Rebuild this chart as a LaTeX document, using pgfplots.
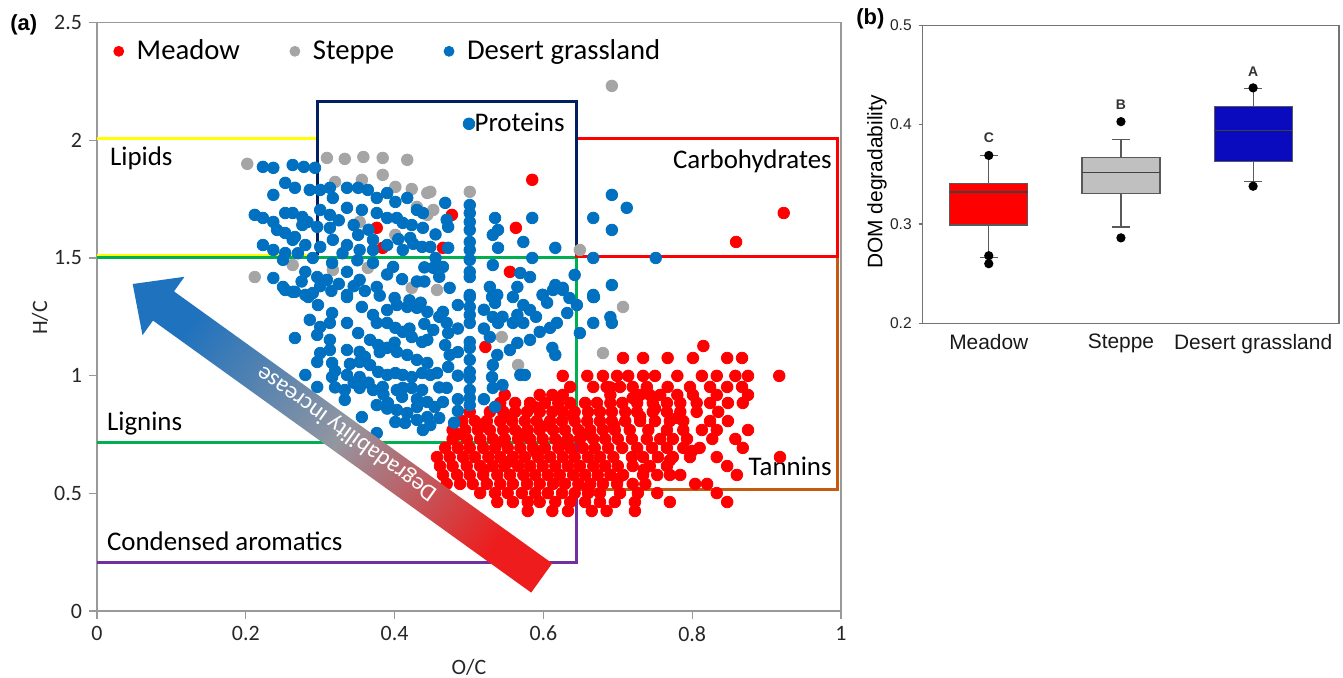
\documentclass[border=0pt]{standalone}
\usepackage{pgfplots}
\pgfplotsset{compat=1.18}
\usepgfplotslibrary{statistics}
\usepackage{fontspec}
\setmainfont{Carlito}
\newfontfamily\arialf{Liberation Sans}
\definecolor{mred}{HTML}{FF0000}
\definecolor{sgray}{HTML}{A5A5A5}
\definecolor{dblue}{HTML}{0070C0}
\definecolor{lyellow}{HTML}{FFFF00}
\definecolor{lgreen}{HTML}{00B050}
\definecolor{pnavy}{HTML}{002060}
\definecolor{torange}{HTML}{C55A11}
\definecolor{cpurple}{HTML}{7030A0}
\definecolor{arrblue}{HTML}{1F72BE}
\definecolor{arrred}{HTML}{EE1C1C}
\definecolor{arrmid}{HTML}{9496A0}
\definecolor{bred}{HTML}{FF0000}
\definecolor{bgray}{HTML}{C0C0C0}
\definecolor{bblue}{HTML}{0A0ABE}
\begin{document}
\begin{tikzpicture}
\path[use as bounding box] (0,0) rectangle (671.5bp,339bp);
% ---------------- panel (a) ----------------
\begin{axis}[
  at={(48.5bp,33.5bp)}, anchor=south west, scale only axis,
  width=372bp, height=294.2bp,
  xmin=0, xmax=1, ymin=0, ymax=2.5,
  xtick={0,0.2,0.4,0.6,0.8,1}, xticklabels={0,0.2,0.4,0.6,0.8,1},
  ytick={0,0.5,1,1.5,2,2.5}, yticklabels={0,0.5,1,1.5,2,2.5},
  tick pos=left,
  tick align=outside, major tick length=4bp,
  axis line style={black!40, line width=0.6pt},
  tick style={black!40, line width=0.6pt},
  ticklabel style={font=\fontsize{11}{13}\selectfont, text=black!85},
  clip=false,
  legend style={at={(axis cs:0.022,2.378)}, anchor=west, draw=none, fill=none,
    legend columns=3, font=\fontsize{14.4}{17}\selectfont, inner sep=0pt,
    /tikz/every odd column/.append style={column sep=4.5bp},
    /tikz/every even column/.append style={column sep=23bp}},
  legend image code/.code={\draw[#1, mark size=2.5bp] plot coordinates {(0bp,0bp)};},
  every axis plot/.append style={only marks, mark=*, mark size=2.9bp},
]
% Meadow
\addplot[mred, mark options={draw=mred, fill=mred}] coordinates {
(0.376,1.628) (0.384,1.543) (0.585,1.832) (0.563,1.628) (0.477,1.683) (0.465,1.543)
(0.555,1.441) (0.923,1.691) (0.859,1.568) (0.522,1.122)
(0.815,1.126)
(0.707,1.075) (0.734,1.075) (0.767,1.075) (0.801,1.075) (0.847,1.075) (0.867,1.075)
(0.626,0.999) (0.659,0.999) (0.680,0.999) (0.699,0.999) (0.714,0.999) (0.734,0.999) (0.750,0.999) (0.780,0.999) (0.813,0.999) (0.833,0.999) (0.858,0.999) (0.875,0.999) (0.917,0.999)
(0.636,0.952) (0.667,0.952) (0.685,0.952) (0.703,0.952) (0.720,0.952) (0.739,0.952) (0.767,0.952) (0.797,0.952) (0.824,0.952) (0.847,0.952) (0.867,0.952)
(0.548,0.918) (0.595,0.918) (0.612,0.918) (0.626,0.918) (0.690,0.918) (0.730,0.918) (0.743,0.918) (0.757,0.918) (0.780,0.918) (0.801,0.918) (0.833,0.918) (0.875,0.918)
(0.542,0.884) (0.562,0.884) (0.582,0.884) (0.602,0.884) (0.620,0.884) (0.636,0.884) (0.656,0.884) (0.672,0.884) (0.690,0.884) (0.706,0.884) (0.726,0.884) (0.747,0.884) (0.766,0.884) (0.784,0.884) (0.806,0.884) (0.824,0.884) (0.848,0.884) (0.868,0.884)
(0.501,0.846) (0.528,0.846) (0.546,0.846) (0.562,0.846) (0.578,0.846) (0.595,0.846) (0.612,0.846) (0.626,0.846) (0.642,0.846) (0.660,0.846) (0.676,0.846) (0.692,0.846) (0.710,0.846) (0.726,0.846) (0.747,0.846) (0.766,0.846) (0.784,0.846) (0.806,0.846) (0.835,0.846)
(0.491,0.807) (0.508,0.807) (0.524,0.807) (0.542,0.807) (0.558,0.807) (0.575,0.807) (0.591,0.807) (0.609,0.807) (0.625,0.807) (0.642,0.807) (0.659,0.807) (0.676,0.807) (0.692,0.807) (0.710,0.807) (0.730,0.807) (0.750,0.807) (0.770,0.807) (0.788,0.807) (0.824,0.807) (0.848,0.807)
(0.478,0.769) (0.495,0.769) (0.512,0.769) (0.528,0.769) (0.546,0.769) (0.562,0.769) (0.579,0.769) (0.595,0.769) (0.613,0.769) (0.629,0.769) (0.647,0.769) (0.663,0.769) (0.680,0.769) (0.696,0.769) (0.716,0.769) (0.741,0.769) (0.766,0.769) (0.788,0.769) (0.813,0.769) (0.833,0.769) (0.875,0.769)
(0.478,0.731) (0.497,0.731) (0.515,0.731) (0.532,0.731) (0.548,0.731) (0.566,0.731) (0.582,0.731) (0.599,0.731) (0.616,0.731) (0.633,0.731) (0.649,0.731) (0.667,0.731) (0.683,0.731) (0.700,0.731) (0.719,0.731) (0.739,0.731) (0.757,0.731) (0.774,0.731) (0.793,0.731) (0.827,0.731) (0.858,0.731)
(0.468,0.693) (0.485,0.693) (0.501,0.693) (0.519,0.693) (0.535,0.693) (0.552,0.693) (0.569,0.693) (0.586,0.693) (0.602,0.693) (0.620,0.693) (0.636,0.693) (0.653,0.693) (0.669,0.693) (0.687,0.693) (0.706,0.693) (0.726,0.693) (0.746,0.693) (0.766,0.693) (0.788,0.693) (0.810,0.693) (0.868,0.693)
(0.457,0.654) (0.474,0.654) (0.492,0.654) (0.508,0.654) (0.526,0.654) (0.542,0.654) (0.559,0.654) (0.575,0.654) (0.593,0.654) (0.609,0.654) (0.626,0.654) (0.642,0.654) (0.660,0.654) (0.676,0.654) (0.694,0.654) (0.719,0.654) (0.734,0.654) (0.754,0.654) (0.774,0.654) (0.797,0.654) (0.833,0.654) (0.918,0.654)
(0.461,0.616) (0.478,0.616) (0.497,0.616) (0.515,0.616) (0.532,0.616) (0.548,0.616) (0.566,0.616) (0.582,0.616) (0.599,0.616) (0.616,0.616) (0.633,0.616) (0.649,0.616) (0.667,0.616) (0.683,0.616) (0.700,0.616) (0.720,0.616) (0.743,0.616) (0.766,0.616) (0.847,0.616)
(0.465,0.578) (0.484,0.578) (0.501,0.578) (0.519,0.578) (0.538,0.578) (0.555,0.578) (0.573,0.578) (0.589,0.578) (0.606,0.578) (0.622,0.578) (0.640,0.578) (0.656,0.578) (0.673,0.578) (0.690,0.578) (0.707,0.578) (0.734,0.578) (0.753,0.578) (0.770,0.578) (0.784,0.578) (0.860,0.578)
(0.470,0.540) (0.488,0.540) (0.505,0.540) (0.524,0.540) (0.542,0.540) (0.559,0.540) (0.578,0.540) (0.595,0.540) (0.613,0.540) (0.629,0.540) (0.647,0.540) (0.663,0.540) (0.680,0.540) (0.699,0.540) (0.720,0.540) (0.737,0.540) (0.804,0.540) (0.820,0.540)
(0.515,0.501) (0.535,0.501) (0.552,0.501) (0.571,0.501) (0.589,0.501) (0.606,0.501) (0.625,0.501) (0.642,0.501) (0.660,0.501) (0.676,0.501) (0.703,0.501) (0.727,0.501) (0.753,0.501) (0.833,0.501)
(0.538,0.463) (0.559,0.463) (0.579,0.463) (0.595,0.463) (0.616,0.463) (0.636,0.463) (0.656,0.463) (0.676,0.463) (0.696,0.463) (0.723,0.463) (0.770,0.463) (0.847,0.463)
(0.579,0.425) (0.612,0.425) (0.633,0.425) (0.665,0.425) (0.685,0.425) (0.723,0.425)
(0.486,0.750) (0.520,0.790) (0.555,0.825) (0.590,0.865) (0.537,0.712) (0.571,0.750) (0.605,0.788) (0.640,0.826) (0.520,0.600) (0.555,0.636) (0.590,0.674) (0.625,0.712) (0.660,0.750) (0.695,0.788) (0.730,0.826)
(0.700,0.560) (0.735,0.600) (0.770,0.640) (0.800,0.680) (0.660,0.520) (0.690,0.950) (0.720,0.905) (0.750,0.860) (0.780,0.820)
};
\addlegendentry{Meadow}
% Steppe
\addplot[sgray, mark options={draw=sgray, fill=sgray}] coordinates {
(0.202,1.900) (0.309,1.925) (0.333,1.921) (0.358,1.929) (0.384,1.925) (0.417,1.917)
(0.320,1.823) (0.356,1.832) (0.384,1.853) (0.401,1.802) (0.423,1.793) (0.444,1.776)
(0.430,1.717) (0.444,1.683) (0.401,1.598) (0.353,1.653) (0.263,1.470) (0.212,1.419)
(0.317,1.449) (0.364,1.458) (0.423,1.373) (0.448,1.781) (0.452,1.704) (0.501,1.781)
(0.649,1.534) (0.692,2.231) (0.707,1.292) (0.544,1.164) (0.566,1.045) (0.680,1.096)
(0.457,1.364)
};
\addlegendentry{Steppe}
% Desert grassland
\addplot[dblue, mark options={draw=dblue, fill=dblue}] coordinates {
(0.223,1.887) (0.237,1.883) (0.263,1.895) (0.278,1.887) (0.293,1.883)
(0.253,1.819) (0.266,1.798) (0.286,1.789) (0.300,1.789) (0.313,1.798) (0.317,1.755) (0.336,1.798) (0.351,1.798) (0.364,1.789) (0.376,1.755) (0.390,1.776) (0.401,1.738) (0.417,1.755) (0.430,1.704) (0.438,1.691)
(0.237,1.768)
(0.212,1.683) (0.223,1.670) (0.237,1.653) (0.253,1.691) (0.263,1.691) (0.276,1.674) (0.283,1.653) (0.300,1.704) (0.313,1.683) (0.336,1.713) (0.356,1.704) (0.376,1.691) (0.390,1.670) (0.403,1.670) (0.411,1.649) (0.423,1.640) (0.438,1.628)
(0.242,1.619) (0.253,1.606) (0.266,1.589) (0.276,1.640) (0.296,1.632) (0.313,1.628) (0.351,1.598) (0.371,1.577) (0.390,1.555) (0.421,1.585) (0.437,1.547)
(0.223,1.555) (0.237,1.534) (0.253,1.521) (0.263,1.577) (0.280,1.555) (0.300,1.547) (0.317,1.577) (0.336,1.555) (0.353,1.534) (0.371,1.534) (0.411,1.534)
(0.250,1.492) (0.280,1.441) (0.296,1.419) (0.309,1.407) (0.316,1.479) (0.336,1.441) (0.353,1.407) (0.371,1.479) (0.398,1.462) (0.237,1.415) (0.250,1.377) (0.263,1.356) (0.280,1.343) (0.290,1.351) (0.336,1.343) (0.376,1.377)
(0.468,1.734) (0.470,1.662) (0.472,1.632) (0.501,1.725) (0.501,1.691) (0.501,1.653) (0.501,1.619) (0.501,1.568) (0.501,1.534) (0.535,1.670) (0.539,1.619) (0.532,1.598) (0.539,1.543) (0.585,1.670) (0.573,1.568) (0.616,1.543) (0.667,1.670) (0.692,1.768) (0.712,1.713) (0.692,1.619) (0.667,1.500) (0.585,1.500) (0.501,1.492) (0.501,1.441) (0.501,1.419) (0.532,1.470) (0.465,1.462) (0.452,1.458) (0.472,1.543) (0.569,1.436) (0.582,1.419) (0.616,1.385) (0.626,1.373) (0.528,1.377) (0.538,1.343) (0.501,1.343) (0.642,1.428) (0.692,1.385) (0.667,1.343) (0.599,1.343) (0.565,1.377) (0.474,1.373) (0.448,1.547)
(0.500,2.070) (0.751,1.500) (0.668,1.334) (0.690,1.249)
(0.253,1.364) (0.266,1.356) (0.284,1.334) (0.297,1.300) (0.316,1.266) (0.336,1.334) (0.356,1.292) (0.371,1.258) (0.390,1.279) (0.403,1.300) (0.417,1.292) (0.430,1.288) (0.444,1.271)
(0.376,1.224) (0.390,1.224) (0.401,1.203) (0.411,1.186) (0.423,1.164) (0.437,1.143) (0.444,1.152)
(0.286,1.237) (0.300,1.207) (0.313,1.224) (0.336,1.224) (0.266,1.160) (0.296,1.173) (0.313,1.152) (0.351,1.181) (0.367,1.152) (0.378,1.130) (0.390,1.118) (0.403,1.101) (0.417,1.088) (0.430,1.067) (0.444,1.054)
(0.300,1.096) (0.313,1.109) (0.336,1.109) (0.353,1.101) (0.353,1.058) (0.367,1.045) (0.378,1.016) (0.390,1.003) (0.401,1.011) (0.411,1.003) (0.423,0.994) (0.437,1.011) (0.448,1.003)
(0.296,1.058) (0.316,1.054) (0.280,1.003) (0.296,0.952) (0.316,0.994) (0.336,1.003) (0.353,0.994) (0.371,0.939) (0.384,0.952) (0.403,0.939) (0.411,0.948) (0.423,0.948) (0.437,0.939)
(0.333,0.939) (0.333,0.897) (0.353,0.948) (0.376,0.875) (0.391,0.884) (0.403,0.854) (0.417,0.841) (0.430,0.867) (0.444,0.888) (0.356,0.824) (0.376,0.756) (0.401,0.803) (0.414,0.799) (0.430,0.812) (0.438,0.769) (0.444,0.824)
(0.501,1.334) (0.501,1.292) (0.501,1.258) (0.501,1.224) (0.501,1.143) (0.501,1.118) (0.501,1.067) (0.501,1.016) (0.501,0.990) (0.501,0.939) (0.501,0.905) (0.501,0.875)
(0.452,1.194) (0.465,1.271) (0.470,1.224) (0.472,1.181) (0.468,1.130) (0.474,1.088) (0.457,1.011) (0.472,1.037) (0.470,0.948) (0.465,0.888) (0.454,0.867) (0.448,0.790)
(0.531,1.334) (0.535,1.309) (0.532,1.249) (0.539,1.224) (0.528,1.164) (0.538,1.088) (0.532,1.045) (0.531,0.994) (0.532,0.948) (0.535,0.867)
(0.559,1.334) (0.573,1.300) (0.582,1.279) (0.565,1.258) (0.559,1.224) (0.573,1.224) (0.582,1.152) (0.595,1.186) (0.609,1.203) (0.618,1.224) (0.632,1.266) (0.645,1.300) (0.555,1.109) (0.565,1.139) (0.569,1.003) (0.575,1.003) (0.612,1.118) (0.616,1.088) (0.599,1.343) (0.613,1.364) (0.626,1.364) (0.667,1.334) (0.667,1.224) (0.649,1.181) (0.692,1.224)
(0.270,1.520) (0.290,1.500) (0.275,1.400) (0.300,1.380) (0.315,1.360) (0.325,1.390) (0.345,1.380) (0.360,1.360) (0.380,1.340) (0.400,1.330) (0.420,1.320) (0.435,1.310)
(0.330,1.520) (0.350,1.490) (0.390,1.430) (0.410,1.410) (0.430,1.400)
(0.325,1.660) (0.345,1.640) (0.365,1.620) (0.405,1.580) (0.425,1.560)
(0.455,1.600) (0.455,1.500) (0.440,1.460) (0.460,1.420) (0.440,1.400)
(0.320,1.020) (0.340,1.050) (0.360,1.080) (0.380,1.100) (0.400,1.140) (0.420,1.200) (0.440,1.220) (0.460,1.250)
(0.320,0.950) (0.345,0.970) (0.365,0.970) (0.385,0.920) (0.410,0.910) (0.430,0.900) (0.390,0.860) (0.460,0.950)
(0.460,0.820) (0.480,0.800) (0.485,0.850) (0.485,0.900) (0.520,0.900) (0.545,0.960)
(0.520,1.200) (0.545,1.250) (0.590,1.250) (0.605,1.310) (0.635,1.330) (0.520,1.280) (0.485,1.300) (0.485,1.200) (0.485,1.100) (0.485,1.000)
};
\addlegendentry{Desert grassland}
% compound class regions
\draw[lyellow, line width=1.5bp] (axis cs:0,2.006) -- (axis cs:0.297,2.006);
\draw[lyellow, line width=1.5bp] (axis cs:0,1.512) -- (axis cs:0.297,1.512);
\draw[lgreen, line width=1.5bp] (axis cs:0,1.502) -- (axis cs:0.645,1.502) -- (axis cs:0.645,0.715) -- (axis cs:0,0.715);
\draw[cpurple, line width=1.5bp] (axis cs:0.645,0.715) -- (axis cs:0.645,0.205) -- (axis cs:0,0.205);
\draw[torange, line width=1.5bp] (axis cs:0.995,1.507) -- (axis cs:0.995,0.517) -- (axis cs:0.645,0.517);
\draw[mred, line width=1.5bp] (axis cs:0.645,1.507) rectangle (axis cs:0.995,2.008);
\draw[pnavy, line width=1.5bp] (axis cs:0.297,1.512) -- (axis cs:0.297,2.165) -- (axis cs:0.645,2.165) -- (axis cs:0.645,1.512);
\begin{scope}[every node/.style={inner sep=0pt, font=\fontsize{13.5}{16}\selectfont}]
\node[anchor=base west] at (axis cs:0.017,1.893) {Lipids};
\node[anchor=base west] at (axis cs:0.507,2.037) {Proteins};
\node[anchor=base east] at (axis cs:0.988,1.881) {Carbohydrates};
\node[anchor=base west] at (axis cs:0.013,0.766) {Lignins};
\node[anchor=base west] at (axis cs:0.013,0.256) {Condensed aromatics};
\node[anchor=base east] at (axis cs:0.988,0.574) {Tannins};
\end{scope}
\end{axis}
% ---------------- panel (b) ----------------
\begin{axis}[
  at={(461.35bp,177.35bp)}, anchor=south west, scale only axis,
  width=208.15bp, height=149bp,
  xmin=-0.5, xmax=2.65, ymin=0.2, ymax=0.5,
  xtick={0,1,2}, xticklabels={Meadow,Steppe,Desert grassland},
  ytick={0.2,0.3,0.4,0.5}, yticklabels={0.2,0.3,0.4,0.5},
  tick pos=left,
  axis line style={black!55, line width=0.6pt},
  x tick style={draw=none}, y tick style={black!55, line width=0.6pt},
  tick align=outside, major tick length=2bp,
  yticklabel style={font=\arialf\fontsize{7.8}{9}\selectfont, text=black!85},
  xticklabel style={font=\arialf\fontsize{10.5}{12}\selectfont, text=black!90},
  clip=false,
  boxplot/draw direction=y,
  boxplot/box extend=0.59,
  boxplot/whisker extend=0.14,
]
\addplot[black!65, line width=0.6pt, mark=*, mark size=2bp, mark options={black, fill=black},
  boxplot prepared={lower whisker=0.266, lower quartile=0.299, median=0.332,
    upper quartile=0.341, upper whisker=0.369, draw position=0},
  boxplot/every box/.style={fill=bred, draw=black!65},
  boxplot/every median/.style={draw=black!75, line width=0.7pt}]
  table[row sep=\\, y index=0] {y\\ 0.369\\ 0.268\\ 0.260\\};
\addplot[black!65, line width=0.6pt, mark=*, mark size=2bp, mark options={black, fill=black},
  boxplot prepared={lower whisker=0.297, lower quartile=0.331, median=0.352,
    upper quartile=0.367, upper whisker=0.385, draw position=1},
  boxplot/every box/.style={fill=bgray, draw=black!65},
  boxplot/every median/.style={draw=black!75, line width=0.7pt}]
  table[row sep=\\, y index=0] {y\\ 0.403\\ 0.286\\};
\addplot[black!65, line width=0.6pt, mark=*, mark size=2bp, mark options={black, fill=black},
  boxplot prepared={lower whisker=0.343, lower quartile=0.363, median=0.394,
    upper quartile=0.418, upper whisker=0.436, draw position=2},
  boxplot/every box/.style={fill=bblue, draw=black!65},
  boxplot/every median/.style={draw=black!75, line width=0.7pt}]
  table[row sep=\\, y index=0] {y\\ 0.437\\ 0.338\\};
\begin{scope}[every node/.style={font=\arialf\bfseries\fontsize{7}{8}\selectfont, text=black!80}]
\node at (axis cs:0,0.387) {C};
\node at (axis cs:1,0.420) {B};
\node at (axis cs:2,0.453) {A};
\end{scope}
\end{axis}
% ---------------- annotations in image pixel units ----------------
\begin{scope}[yshift=339bp, x=0.5bp, y=-0.5bp]
\shade[top color=arrblue, bottom color=arrred, middle color=arrmid, shading angle=54.3]
  (552.2,563.4) -- (174,291.4) -- (184.5,276.8) -- (132.7,284) -- (142.5,335.2)
  -- (153,320.6) -- (531.2,592.6) -- cycle;
\node[rotate=144.3, text=white, font=\fontsize{12}{14}\selectfont] at (347,433) {Degradability increase};
\node[anchor=west, inner sep=0pt, font=\arialf\bfseries\fontsize{11}{13}\selectfont] at (10,25) {(a)};
\node[anchor=west, inner sep=0pt, font=\arialf\bfseries\fontsize{11}{13}\selectfont] at (856,19) {(b)};
\node[rotate=90, font=\fontsize{11}{13}\selectfont, text=black!85] at (40,318) {H/C};
\node[font=\fontsize{11}{13}\selectfont, text=black!85] at (469,667) {O/C};
\node[rotate=90, font=\arialf\fontsize{10.5}{12}\selectfont] at (877,182) {DOM degradability};
\end{scope}
\end{tikzpicture}
\end{document}
